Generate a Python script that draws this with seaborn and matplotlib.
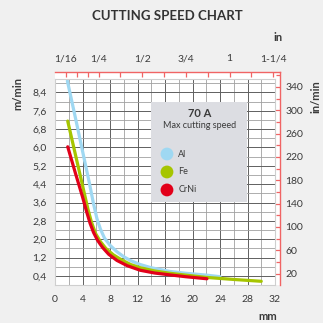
import matplotlib.pyplot as plt
import seaborn as sns
import pandas as pd
from matplotlib.patches import Rectangle

# Max cutting speed at 70 A (thickness in mm, speed in m/min)
al_mm = [1.8, 3.0, 4.0, 5.0, 5.6, 6.1, 6.6, 7.2, 8.0, 9.0, 10.0, 11.0, 12.4, 14.0, 16.7, 19.0, 22.0, 24.0]
al_speed = [8.9, 7.25, 5.85, 4.45, 3.55, 2.9, 2.45, 2.05, 1.74, 1.46, 1.24, 1.07, 0.9, 0.76, 0.6, 0.52, 0.44, 0.37]

fe_mm = [1.85, 3.0, 4.0, 4.8, 5.3, 5.9, 6.6, 7.4, 8.5, 9.7, 11.0, 12.4, 14.5, 16.7, 19.0, 22.0, 26.0, 30.0]
fe_speed = [7.15, 5.65, 4.35, 3.3, 2.75, 2.25, 1.9, 1.6, 1.32, 1.1, 0.9, 0.76, 0.62, 0.52, 0.44, 0.34, 0.25, 0.17]

crni_mm = [1.85, 3.0, 4.0, 4.6, 5.1, 5.6, 6.2, 6.9, 7.8, 9.0, 10.5, 12.4, 14.5, 16.7, 19.0, 22.1]
crni_speed = [6.03, 4.85, 3.85, 3.2, 2.7, 2.3, 1.95, 1.65, 1.35, 1.08, 0.85, 0.65, 0.53, 0.45, 0.37, 0.28]

materials = ["Al", "Fe", "CrNi"]
colors = ["#9fd8f2", "#a6c500", "#e2001a"]

mm_ticks = list(range(0, 33, 4))
speed_ticks = [0.4, 1.2, 2.0, 2.8, 3.6, 4.4, 5.2, 6.0, 6.8, 7.6, 8.4]
speed_labels = [f"{v:.1f}".replace(".", ",") for v in speed_ticks]

inch_ticks = [1 / 16, 1 / 4, 1 / 2, 3 / 4, 1, 1.25]
inch_labels = ["1/16", "1/4", "1/2", "3/4", "1", "1-1/4"]
inch_minor = [1 / 8, 3 / 16, 3 / 8, 5 / 8, 7 / 8, 9 / 8]
ipm_ticks = list(range(20, 341, 40))
ipm_minor = list(range(40, 361, 40))

MM_PER_IN = 25.4
IN_PER_M = 39.37

df = pd.concat([
    pd.DataFrame({"mm": al_mm, "speed": al_speed, "material": "Al"}),
    pd.DataFrame({"mm": fe_mm, "speed": fe_speed, "material": "Fe"}),
    pd.DataFrame({"mm": crni_mm, "speed": crni_speed, "material": "CrNi"}),
])

sns.set_theme(style="white")
plt.rcParams["font.family"] = ["Lato", "DejaVu Sans"]

W, H = 323, 323
fig = plt.figure(figsize=(W / 100, H / 100), dpi=100, facecolor="#f0f0f0")

# plot box in pixels (grid area), plus the offset red inch frame
x0, y0, w, h = 55, 37.8, 220, 206.6
pad_r, pad_t = 5, 7
xmax, ymax = 32, 9.0
red = "#f06464"
txt = "#3a3a3a"

# inch axes behind, larger box, red top/right frame
ax_r = fig.add_axes([x0 / W, y0 / H, (w + pad_r) / W, (h + pad_t) / H])
ax_r.set_facecolor("white")
ax_r.set_xlim(0, xmax * (w + pad_r) / w / MM_PER_IN)
ax_r.set_ylim(0, ymax * (h + pad_t) / h * IN_PER_M)
for s in ["left", "bottom"]:
    ax_r.spines[s].set_visible(False)
for s in ["top", "right"]:
    ax_r.spines[s].set_color(red)
    ax_r.spines[s].set_linewidth(1.0)
ax_r.xaxis.tick_top()
ax_r.yaxis.tick_right()
ax_r.set_xticks(inch_ticks, inch_labels)
ax_r.set_xticks(inch_minor, minor=True)
ax_r.set_yticks(ipm_ticks, [str(v) for v in ipm_ticks])
ax_r.set_yticks(ipm_minor, minor=True)
ax_r.tick_params(axis="x", which="both", direction="in", length=3.6, width=0.9,
                 color=red, labelsize=7.5, labelcolor=txt, pad=6)
ax_r.tick_params(axis="y", which="major", direction="in", length=4.2, width=0.9,
                 color=red, labelsize=7.5, labelcolor=txt, pad=4)
ax_r.tick_params(axis="y", which="minor", direction="in", length=3.2, width=0.9, color=red)
ax_r.set_zorder(0)

# main metric axes with grid
ax = fig.add_axes([x0 / W, y0 / H, w / W, h / H])
ax.set_zorder(1)
ax.set_facecolor("white")
sns.lineplot(data=df, x="mm", y="speed", hue="material", hue_order=materials,
             palette=dict(zip(materials, colors)), sort=False, estimator=None,
             linewidth=2.3, legend=False, ax=ax)
for line in ax.get_lines():
    line.set_solid_joinstyle("round")
ax.set_xlim(0, xmax)
ax.set_ylim(0, ymax)
ax.set_xticks(mm_ticks)
ax.set_xticks(range(2, 32, 4), minor=True)
ax.set_yticks(speed_ticks, speed_labels)
ax.set_yticks([0.8 * i for i in range(1, 12)], minor=True)
ax.tick_params(which="both", length=0, labelsize=7.5, labelcolor=txt)
ax.tick_params(axis="y", pad=6)
ax.tick_params(axis="x", pad=7)
ax.grid(which="major", color="#606060", linewidth=0.7)
ax.grid(which="minor", color="#a0a0a0", linewidth=0.6)
ax.set_axisbelow(True)
for s in ax.spines.values():
    s.set_color("#cfcfcf")
    s.set_linewidth(0.8)
ax.set_xlabel("")
ax.set_ylabel("")

# legend panel
ax.add_patch(Rectangle((0.436, 0.403), 0.437, 0.484, transform=ax.transAxes,
                       facecolor="#dcdde2", edgecolor="none", zorder=3))
ax.text(0.659, 0.829, "70 A", transform=ax.transAxes, ha="center", va="center",
        fontsize=8, fontweight="bold", color=txt, zorder=4)
ax.text(0.655, 0.771, "Max cutting speed", transform=ax.transAxes, ha="center",
        va="center", fontsize=6.5, color=txt, zorder=4)
for i, (m, c) in enumerate(zip(materials, colors)):
    yy = 0.635 - i * 0.087
    ax.scatter([0.509], [yy], s=85, color=c, transform=ax.transAxes, zorder=4,
               clip_on=False, edgecolors="none")
    ax.text(0.56, yy, m, transform=ax.transAxes, ha="left", va="center",
            fontsize=6.5, color=txt, zorder=4)

# titles and unit labels
fig.text(167 / W, 1 - 16.5 / H, "CUTTING SPEED CHART", ha="center", va="center",
         fontsize=9.5, fontweight="bold", color="#333333")
fig.text(278 / W, 1 - 37.5 / H, "in", ha="center", va="center",
         fontsize=8, fontweight="bold", color=txt)
fig.text(268 / W, 1 - 317 / H, "mm", ha="center", va="center",
         fontsize=8, fontweight="bold", color=txt)
fig.text(18 / W, 1 - 94 / H, "m/min", ha="center", va="center", rotation=90,
         fontsize=8, fontweight="bold", color=txt)
fig.text(316 / W, 1 - 97 / H, "in/min", ha="center", va="center", rotation=90,
         fontsize=8, fontweight="bold", color=txt)

fig.savefig("out.png", dpi=100, facecolor=fig.get_facecolor())
